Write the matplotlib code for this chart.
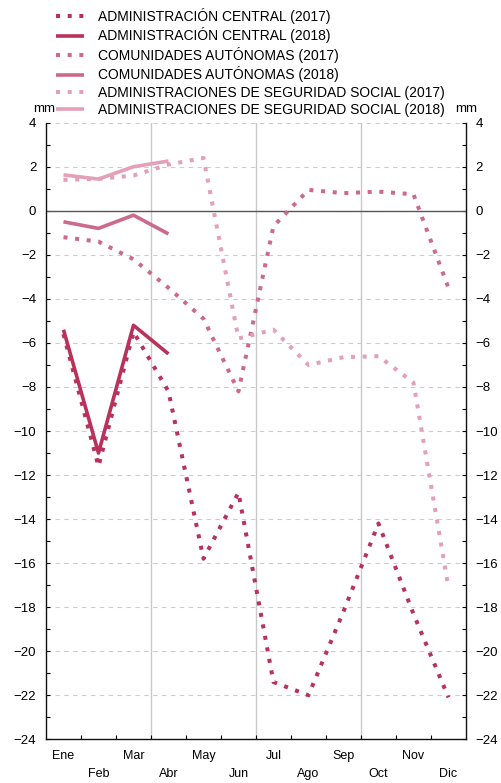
import matplotlib
matplotlib.use("Agg")
import matplotlib.pyplot as plt
from matplotlib.ticker import MultipleLocator, FixedLocator

plt.rcParams['font.family'] = ['Liberation Sans', 'DejaVu Sans']

months = ['Ene', 'Feb', 'Mar', 'Abr', 'May', 'Jun', 'Jul', 'Ago', 'Sep', 'Oct', 'Nov', 'Dic']
central_2017 = [-5.6, -11.6, -5.5, -8.2, -15.8, -12.8, -21.4, -22.0, -18.2, -14.2, -18.3, -22.1]
central_2018 = [-5.4, -11.0, -5.2, -6.5]
ccaa_2017 = [-1.2, -1.4, -2.2, -3.5, -4.9, -8.2, -0.7, 0.95, 0.8, 0.87, 0.75, -3.5]
ccaa_2018 = [-0.5, -0.8, -0.2, -1.05]
ss_2017 = [1.4, 1.45, 1.6, 2.1, 2.4, -5.8, -5.4, -7.0, -6.65, -6.6, -7.8, -17.1]
ss_2018 = [1.63, 1.44, 2.0, 2.26]

labels = ['ADMINISTRACIÓN CENTRAL (2017)', 'ADMINISTRACIÓN CENTRAL (2018)',
          'COMUNIDADES AUTÓNOMAS (2017)', 'COMUNIDADES AUTÓNOMAS (2018)',
          'ADMINISTRACIONES DE SEGURIDAD SOCIAL (2017)', 'ADMINISTRACIONES DE SEGURIDAD SOCIAL (2018)']

c_central = '#b8325c'
c_ccaa = '#cc6a8c'
c_ss = '#e3a0b6'

fig = plt.figure(figsize=(5.01, 7.83), dpi=100)
ax = fig.add_axes([0.0918, 0.0558, 0.8382, 0.7875])

x17 = list(range(len(months)))
x18 = list(range(len(central_2018)))
dot = (0, (1, 1.9))
lw = 2.9
lws = 2.6

series = [
    (central_2017, x17, c_central, dot, lw),
    (central_2018, x18, c_central, '-', lws),
    (ccaa_2017, x17, c_ccaa, dot, lw),
    (ccaa_2018, x18, c_ccaa, '-', lws),
    (ss_2017, x17, c_ss, dot, lw),
    (ss_2018, x18, c_ss, '-', lws),
]
handles = []
for (vals, xs, col, ls, w), lab in zip(series, labels):
    h, = ax.plot(xs, vals, color=col, linestyle=ls, linewidth=w, label=lab,
                 dash_capstyle='butt', solid_capstyle='butt', zorder=3)
    handles.append(h)

ax.set_xlim(-0.5, 11.5)

# grid
for v in range(-22, 5, 2):
    if v == 0:
        ax.axhline(0, color='#555555', lw=1.0, zorder=2)
    else:
        ax.axhline(v, color='#cccccc', lw=0.8, ls=(0, (4, 4)), zorder=1)
for xv in [2.5, 5.5, 8.5]:
    ax.axvline(xv, color='#c8c8c8', lw=1.0, zorder=1)

ax.spines['top'].set_visible(False)
for s in ['left', 'right', 'bottom']:
    ax.spines[s].set_linewidth(1.0)
    ax.spines[s].set_color('#111111')

ax.yaxis.set_major_locator(MultipleLocator(2))
ax.yaxis.set_minor_locator(MultipleLocator(1))
ax.set_ylim(-24, 4)
ax.tick_params(axis='y', which='both', direction='in', length=3, width=0.8,
               left=True, right=True, labelleft=True, labelright=True,
               labelsize=9.5, pad=7)

ax.xaxis.set_major_locator(FixedLocator(x17))
ax.set_xticklabels(months)
ax.xaxis.set_minor_locator(FixedLocator([i + 0.5 for i in range(11)]))
ax.tick_params(axis='x', which='major', length=0, labelsize=9, pad=8)
ax.tick_params(axis='x', which='minor', direction='in', length=3, width=0.8)
for i, t in enumerate(ax.xaxis.get_major_ticks()):
    if i % 2 == 1:
        t.set_pad(21)

fig.text(33 / 501, 1 - 109 / 783, 'mm', fontsize=9.5, ha='left', va='center')
fig.text(455 / 501, 1 - 109 / 783, 'mm', fontsize=9.5, ha='left', va='center')

leg = fig.legend(handles=handles, loc='upper left', bbox_to_anchor=(56 / 501, 1 - 8 / 783),
                 frameon=False, fontsize=10, handlelength=2.0, handletextpad=1.0,
                 labelspacing=0.25, borderaxespad=0, borderpad=0)

fig.savefig('out.png', dpi=100)
